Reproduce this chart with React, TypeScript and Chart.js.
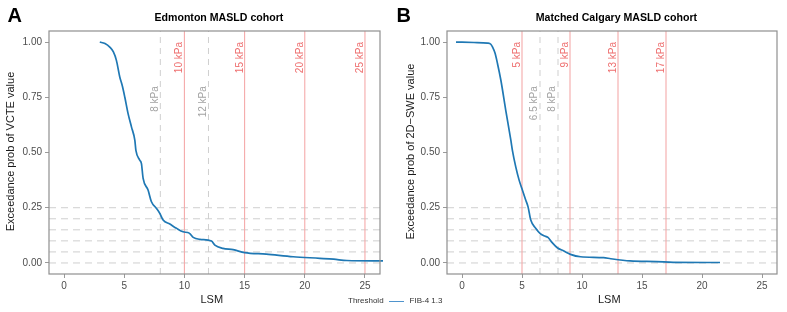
import React, { useEffect, useRef } from "react";
import { Chart, registerables } from "chart.js";
Chart.register(...registerables);

const FONT = "'Liberation Sans', Arial, Helvetica, sans-serif";

const xTickValues = [0, 5, 10, 15, 20, 25];
const yTickValues = [0, 0.25, 0.5, 0.75, 1];
const yTickLabels = ["0.00", "0.25", "0.50", "0.75", "1.00"];
const hLineLevels = [0, 0.05, 0.1, 0.15, 0.2, 0.25];

const edmontonLSM = [2.97, 3.4, 3.8, 4.1, 4.35, 4.63, 4.85, 5.05, 5.32, 5.6, 5.88, 5.97, 6.29, 6.43, 6.57, 6.98, 7.26, 7.68, 7.96, 8.23, 8.79, 9.34, 9.89, 10.4, 10.73, 11.28, 12.25, 12.53, 13.2, 14.05, 15.0, 16.8, 19.03, 21.25, 22.4, 23.5, 26.5];
const edmontonProb = [1.0, 0.993, 0.977, 0.955, 0.917, 0.842, 0.8, 0.75, 0.676, 0.616, 0.556, 0.51, 0.465, 0.45, 0.383, 0.33, 0.277, 0.247, 0.224, 0.194, 0.176, 0.157, 0.141, 0.135, 0.116, 0.107, 0.099, 0.081, 0.066, 0.06, 0.047, 0.04, 0.028, 0.021, 0.017, 0.011, 0.009];

const calgaryLSM = [-0.5, 1.0, 2.13, 2.4, 2.55, 2.75, 2.96, 3.24, 3.65, 4.07, 4.2, 4.48, 4.76, 5.03, 5.31, 5.5, 5.73, 6.14, 6.5, 6.83, 7.16, 7.52, 7.94, 8.49, 9.04, 9.88, 11.8, 12.4, 14.0, 16.2, 17.6, 21.5];
const calgaryProb = [1.0, 0.998, 0.995, 0.99, 0.977, 0.95, 0.902, 0.827, 0.69, 0.556, 0.51, 0.435, 0.375, 0.33, 0.285, 0.255, 0.194, 0.157, 0.134, 0.123, 0.116, 0.092, 0.069, 0.054, 0.039, 0.028, 0.024, 0.019, 0.009, 0.006, 0.003, 0.002];

const edmontonRed = [10, 15, 20, 25];
const edmontonGray = [8, 12];
const calgaryRed = [5, 9, 13, 17];
const calgaryGray = [6.5, 8];

const X_MIN = -1.25;
const X_MAX = 26.25;
const Y_MIN = -0.05;
const Y_MAX = 1.05;
const RED_LABEL_Y = 1.0;
const GRAY_LABEL_Y = 0.8;

const CURVE_COLOR = "#1f78b4";
const RED_LINE = "#f5aaaa";
const RED_TEXT = "#ee6e6e";
const GRAY_LINE = "#cfcfcf";
const GRAY_TEXT = "#a3a3a3";

type PanelOpts = {
  letter: string;
  title: string;
  yTitle: string;
  lsm: number[];
  prob: number[];
  red: number[];
  gray: number[];
  yAxisWidth: number;
  letterX: number;
  yTitleX: number;
};

function makeChart(canvas: HTMLCanvasElement, o: PanelOpts) {
  const datasets: any[] = [];
  datasets.push({
    data: o.lsm.map((x, i) => ({ x, y: o.prob[i] })),
    borderColor: CURVE_COLOR,
    borderWidth: 1.7,
    pointRadius: 0,
    cubicInterpolationMode: "monotone",
    clip: 3,
  });
  o.red.forEach((v) =>
    datasets.push({
      data: [{ x: v, y: Y_MIN }, { x: v, y: Y_MAX }],
      borderColor: RED_LINE,
      borderWidth: 1.1,
      pointRadius: 0,
    })
  );
  o.gray.forEach((v) =>
    datasets.push({
      data: [{ x: v, y: Y_MIN }, { x: v, y: Y_MAX }],
      borderColor: GRAY_LINE,
      borderWidth: 1,
      borderDash: [6, 5],
      pointRadius: 0,
    })
  );
  hLineLevels.forEach((h) =>
    datasets.push({
      data: [{ x: X_MIN, y: h }, { x: X_MAX, y: h }],
      borderColor: GRAY_LINE,
      borderWidth: 1,
      borderDash: [7, 5],
      pointRadius: 0,
    })
  );

  const decor = {
    id: "decor",
    afterDatasetsDraw(chart: any) {
      const { ctx, chartArea: a, scales } = chart;
      const xs = scales.x;
      const ys = scales.y;
      ctx.save();
      ctx.font = `10px ${FONT}`;
      const drawLabel = (v: number, yv: number, color: string, off: number) => {
        const px = xs.getPixelForValue(v);
        const py = ys.getPixelForValue(yv);
        ctx.save();
        ctx.translate(px - off, py);
        ctx.rotate(-Math.PI / 2);
        ctx.fillStyle = color;
        ctx.textAlign = "right";
        ctx.textBaseline = "alphabetic";
        ctx.fillText(`${v} kPa`, 0, 0);
        ctx.restore();
      };
      o.red.forEach((v) => drawLabel(v, RED_LABEL_Y, RED_TEXT, 2));
      o.gray.forEach((v) => drawLabel(v, GRAY_LABEL_Y, GRAY_TEXT, 2.8));
      ctx.strokeStyle = "#8f8f8f";
      ctx.lineWidth = 1.2;
      ctx.strokeRect(a.left, a.top, a.right - a.left, a.bottom - a.top);
      ctx.restore();
    },
    afterDraw(chart: any) {
      const { ctx, chartArea: a } = chart;
      ctx.save();
      ctx.fillStyle = "#000";
      ctx.font = `bold 20px ${FONT}`;
      ctx.textAlign = "left";
      ctx.textBaseline = "alphabetic";
      ctx.fillText(o.letter, o.letterX, 22);
      ctx.font = `bold 10.6px ${FONT}`;
      ctx.textAlign = "center";
      ctx.fillText(o.title, (a.left + a.right) / 2 + 4.4, 20.6);
      ctx.fillStyle = "#1a1a1a";
      ctx.font = `11px ${FONT}`;
      ctx.fillText("LSM", (a.left + a.right) / 2 - 2.7, 303.3);
      ctx.save();
      ctx.translate(o.yTitleX, (a.top + a.bottom) / 2 - 1);
      ctx.rotate(-Math.PI / 2);
      ctx.textAlign = "center";
      ctx.fillText(o.yTitle, 0, 0);
      ctx.restore();
      ctx.restore();
    },
  };

  return new Chart(canvas, {
    type: "line",
    data: { datasets },
    options: {
      animation: false,
      responsive: false,
      events: [],
      layout: { padding: { left: 0, right: 10, top: 31, bottom: 0 } },
      plugins: { legend: { display: false }, tooltip: { enabled: false }, title: { display: false } },
      scales: {
        x: {
          type: "linear",
          min: X_MIN,
          max: X_MAX,
          afterBuildTicks: (s: any) => {
            s.ticks = xTickValues.map((value) => ({ value }));
          },
          afterFit: (s: any) => {
            s.height = 38;
          },
          ticks: {
            font: { family: FONT, size: 10 },
            color: "#4d4d4d",
            padding: 2,
            maxRotation: 0,
            autoSkip: false,
            callback: (v: any) => String(v),
          },
          grid: { drawOnChartArea: false, drawTicks: true, tickLength: 4, color: "#9a9a9a" },
          border: { display: false },
        },
        y: {
          type: "linear",
          min: Y_MIN,
          max: Y_MAX,
          afterBuildTicks: (s: any) => {
            s.ticks = yTickValues.map((value) => ({ value }));
          },
          afterFit: (s: any) => {
            s.width = o.yAxisWidth;
          },
          ticks: {
            font: { family: FONT, size: 10 },
            color: "#4d4d4d",
            padding: 3,
            autoSkip: false,
            callback: (v: any) => {
              const i = yTickValues.indexOf(v);
              return i >= 0 ? yTickLabels[i] : "";
            },
          },
          grid: { drawOnChartArea: false, drawTicks: true, tickLength: 4, color: "#9a9a9a" },
          border: { display: false },
        },
      },
    } as any,
    plugins: [decor],
  });
}

export default function App() {
  const refA = useRef<HTMLCanvasElement>(null);
  const refB = useRef<HTMLCanvasElement>(null);

  useEffect(() => {
    const a = makeChart(refA.current!, {
      letter: "A",
      title: "Edmonton MASLD cohort",
      yTitle: "Exceedance prob of VCTE value",
      lsm: edmontonLSM,
      prob: edmontonProb,
      red: edmontonRed,
      gray: edmontonGray,
      yAxisWidth: 49,
      letterX: 7.5,
      yTitleX: 13.8,
    });
    const b = makeChart(refB.current!, {
      letter: "B",
      title: "Matched Calgary MASLD cohort",
      yTitle: "Exceedance prob of 2D\u2212SWE value",
      lsm: calgaryLSM,
      prob: calgaryProb,
      red: calgaryRed,
      gray: calgaryGray,
      yAxisWidth: 57,
      letterX: 6.5,
      yTitleX: 24.3,
    });
    return () => {
      a.destroy();
      b.destroy();
    };
  }, []);

  return (
    <div style={{ position: "absolute", left: 0, top: 0, width: 787, height: 312, background: "#fff", overflow: "hidden" }}>
      <canvas ref={refA} width={390} height={312} style={{ position: "absolute", left: 0, top: 0 }} />
      <canvas ref={refB} width={397} height={312} style={{ position: "absolute", left: 390, top: 0 }} />
      <div
        style={{
          position: "absolute",
          left: 348,
          top: 296,
          display: "flex",
          alignItems: "center",
          fontFamily: FONT,
          fontSize: 8,
          lineHeight: "10px",
          color: "#333",
          whiteSpace: "nowrap",
        }}
      >
        <span>Threshold</span>
        <span style={{ display: "inline-block", width: 15, height: 0, borderTop: "1px solid #4f94cd", margin: "0 6px 0 5px" }} />
        <span>FIB-4 1.3</span>
      </div>
    </div>
  );
}
